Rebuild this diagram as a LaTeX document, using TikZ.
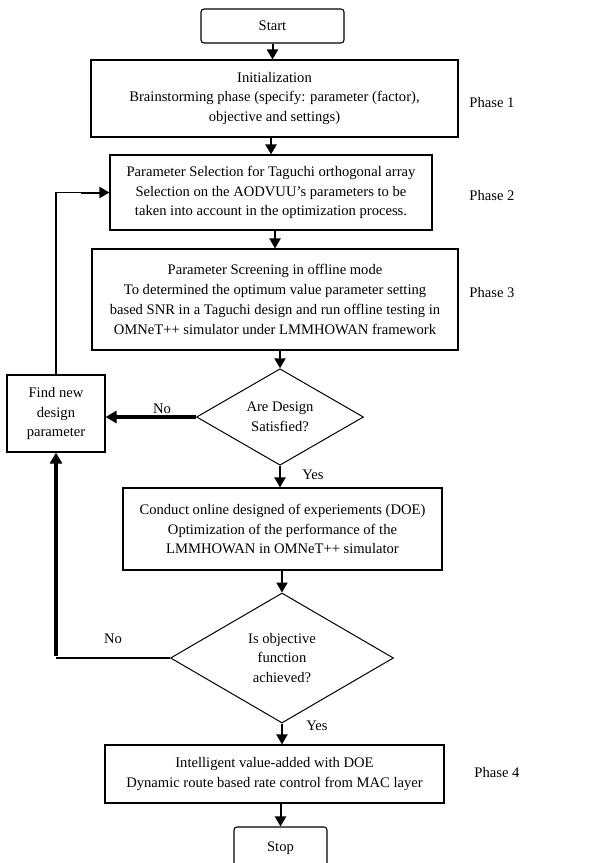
\documentclass[tikz,border=0pt]{standalone}
\usepackage{fontspec}
\setmainfont{Liberation Serif}
\usetikzlibrary{shapes.geometric,arrows.meta}

\begin{document}
\begin{tikzpicture}[x=1pt,y=-1pt,font=\fontsize{14.6}{19.7}\selectfont,
    box/.style={draw,line width=1.1pt,align=center,inner sep=0pt},
    term/.style={box,rounded corners=3pt},
    dec/.style={draw,line width=1pt,diamond,align=center,inner sep=0pt},
    arr/.style={line width=2pt,-{Triangle[length=10pt,width=11pt]}},
    bigarr/.style={line width=3.2pt,-{Triangle[length=11pt,width=12pt]}},
    loop/.style={line width=1.1pt}]
        \useasboundingbox (0,0) rectangle (614,863);

        % main column
        \node[term,minimum width=143,minimum height=34] (start) at (272.5,26) {Start};
        \node[box,minimum width=367,minimum height=77] (init) at (274.5,98.5)
          {Initialization\\Brainstorming phase (specify: parameter (factor),\\objective and settings)};
        \node[box,minimum width=322,minimum height=75] (sel) at (271,192.5)
          {Parameter Selection for Taguchi orthogonal array\\Selection on the AODVUU’s parameters to be\\taken into account in the optimization process.};
        \node[box,minimum width=366,minimum height=101] (screen) at (275,299.5)
          {Parameter Screening in offline mode\\To determined the optimum value parameter setting\\based SNR in a Taguchi design and run offline testing in\\OMNeT++ simulator under LMMHOWAN framework};
        \node[dec,minimum width=167,minimum height=94] (dec1) at (280,417) {Are Design\\Satisfied?};
        \node[box,minimum width=319,minimum height=82] (doe) at (282.5,529)
          {Conduct online designed of experiements (DOE)\\Optimization of the performance of the\\LMMHOWAN in OMNeT++ simulator};
        \node[dec,minimum width=223,minimum height=130] (dec2) at (282,658) {Is objective\\function\\achieved?};
        \node[box,minimum width=339,minimum height=58] (intel) at (274.5,774)
          {Intelligent value-added with DOE\\Dynamic route based rate control from MAC layer};
        \node[term,minimum width=93,minimum height=43] (stop) at (280.5,848.5) {Stop};

        % side box
        \node[box,minimum width=98,minimum height=77] (find) at (56,413.5) {Find new\\design\\parameter};

        % phases
        \node (ph1) at (492,103) {Phase 1};
        \node (ph2) at (492,196) {Phase 2};
        \node (ph3) at (492,292) {Phase 3};
        \node (ph4) at (497,772) {Phase 4};

        % flow
        \draw[arr] (start.south) -- (start.south |- init.north);
        \draw[arr] (sel.north |- init.south) -- (sel.north);
        \draw[arr] (screen.north |- sel.south) -- (screen.north);
        \draw[arr] (dec1.north |- screen.south) -- (dec1.north);
        \draw[arr] (dec1.south) -- (dec1.south |- doe.north);
        \draw[arr] (dec2.north |- doe.south) -- (dec2.north);
        \draw[arr] (dec2.south) -- (dec2.south |- intel.north);
        \draw[arr] (stop.north |- intel.south) -- (stop.north);

        % loops back
        \draw[bigarr] (dec1.west) -- (find.east |- dec1.west);
        \coordinate (back) at (find.south |- dec2.west);
        \draw[loop] (dec2.west) -- (back);
        \draw[bigarr] ([yshift=1.6pt]back) -- (find.south);
        \draw[loop] (find.north) -- (find.north |- sel.west) -- ([xshift=-28pt]sel.west);
        \draw[arr] ([xshift=-28pt]sel.west) -- (sel.west);

        \node (no1) at (162,409) {No};
        \node (yes1) at (313,475) {Yes};
        \node (no2) at (113,639) {No};
        \node (yes2) at (317,726) {Yes};
      \end{tikzpicture}
\end{document}
